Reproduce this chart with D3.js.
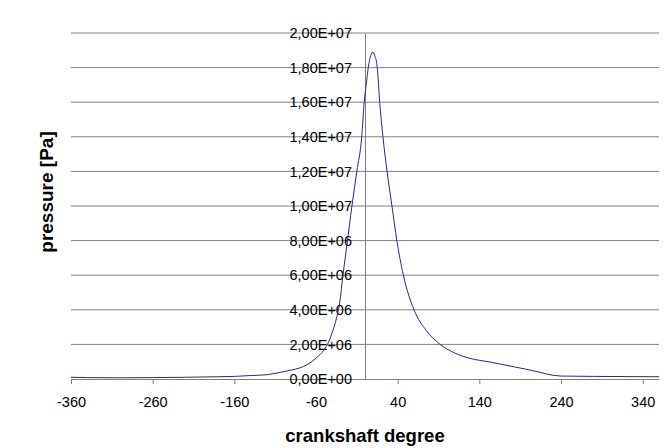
<!DOCTYPE html>
<html>
<head>
<meta charset="utf-8">
<script src="https://cdn.jsdelivr.net/npm/d3@7"></script>
<style>
  body { margin: 0; background: #fff; }
  svg text { font-family: "Liberation Sans", Arial, sans-serif; }
</style>
</head>
<body>
<div id="chart"></div>
<script>
// crank angle [deg] and cylinder pressure [Pa]
const crankDeg = [-360, -340, -300, -260, -220, -180, -160, -140, -120, -100, -90, -80, -70, -60, -50, -45, -40,
    -35, -31, -27, -22, -16, -10, -4, -1, 2, 4, 7, 9.5, 12, 15, 18, 22, 27, 33, 39, 47, 60, 75, 92,
    110, 128, 153, 165, 202, 240, 280, 320, 360];
const pressurePa = [0.10e6, 0.08e6, 0.07e6, 0.08e6, 0.10e6, 0.13e6, 0.15e6, 0.20e6, 0.25e6, 0.42e6, 0.52e6, 0.64e6, 0.85e6, 1.2e6, 1.7e6, 2.1e6, 2.7e6,
    3.5e6, 4.4e6, 6.0e6, 7.8e6, 10.0e6, 12.0e6, 14.0e6, 16.0e6, 17.2e6, 18.0e6, 18.7e6, 18.9e6, 18.7e6, 18.0e6, 16.0e6, 14.0e6, 12.0e6, 10.0e6, 8.0e6, 6.0e6, 4.0e6, 2.8e6, 2.0e6,
    1.5e6, 1.2e6, 0.98e6, 0.87e6, 0.52e6, 0.17e6, 0.15e6, 0.14e6, 0.13e6];
const xTicks = [-360, -260, -160, -60, 40, 140, 240, 340];
const yTicks = [0, 2e6, 4e6, 6e6, 8e6, 1e7, 1.2e7, 1.4e7, 1.6e7, 1.8e7, 2e7];

const width = 666, height = 448;
const plot = {left: 71, right: 659, top: 33, bottom: 379};
const gridColor = "#808080";

const svg = d3.select("#chart").append("svg")
    .attr("width", width)
    .attr("height", height);

const xScale = d3.scaleLinear().domain([-360, 360]).range([plot.left, plot.right]);
const yScale = d3.scaleLinear().domain([0, 2e7]).range([plot.bottom, plot.top]);

// Excel style scientific label, e.g. 1,80E+07
const sci = v => {
    if (v === 0) return "0,00E+00";
    const e = Math.floor(Math.log10(v));
    const m = (v / Math.pow(10, e)).toFixed(2).replace(".", ",");
    return m + "E" + (e < 0 ? "-" : "+") + String(Math.abs(e)).padStart(2, "0");
};

// gridlines
svg.append("g").attr("class", "grid")
    .selectAll("line")
    .data(yTicks.filter(d => d > 0))
    .join("line")
    .attr("x1", plot.left).attr("x2", plot.right)
    .attr("y1", d => yScale(d)).attr("y2", d => yScale(d))
    .attr("stroke", gridColor)
    .attr("stroke-width", 1);

// x axis sits at y = 0
const xAxisG = svg.append("g")
    .attr("transform", "translate(0," + yScale(0) + ")")
    .call(d3.axisBottom(xScale).tickValues(xTicks).tickFormat(d => String(d))
        .tickSize(5).tickSizeOuter(0).tickPadding(13));
xAxisG.select(".domain").attr("stroke", gridColor);
xAxisG.selectAll(".tick line").attr("stroke", gridColor);
xAxisG.selectAll(".tick text")
    .attr("fill", "#000")
    .style("font-size", "14.5px");

// y axis crosses at 0 degrees
const yAxisG = svg.append("g")
    .attr("transform", "translate(" + xScale(0) + ",0)")
    .call(d3.axisLeft(yScale).tickValues(yTicks).tickFormat(sci).tickSize(0).tickPadding(13));
yAxisG.select(".domain").attr("stroke", gridColor);
yAxisG.selectAll(".tick text")
    .attr("fill", "#000")
    .style("font-size", "14.5px");

// pressure curve
const line = d3.line()
    .x((d, i) => xScale(crankDeg[i]))
    .y(d => yScale(d))
    .curve(d3.curveMonotoneX);

svg.append("path")
    .datum(pressurePa)
    .attr("d", line)
    .attr("fill", "none")
    .attr("stroke", "#2a2a7c")
    .attr("stroke-width", 1);

// axis titles
svg.append("text")
    .attr("x", xScale(0))
    .attr("y", 442)
    .attr("text-anchor", "middle")
    .style("font-size", "18.5px")
    .style("font-weight", "bold")
    .text("crankshaft degree");

svg.append("text")
    .attr("transform", "rotate(-90)")
    .attr("x", -192)
    .attr("y", 53)
    .attr("text-anchor", "middle")
    .style("font-size", "19px")
    .style("font-weight", "bold")
    .text("pressure [Pa]");
</script>
</body>
</html>
